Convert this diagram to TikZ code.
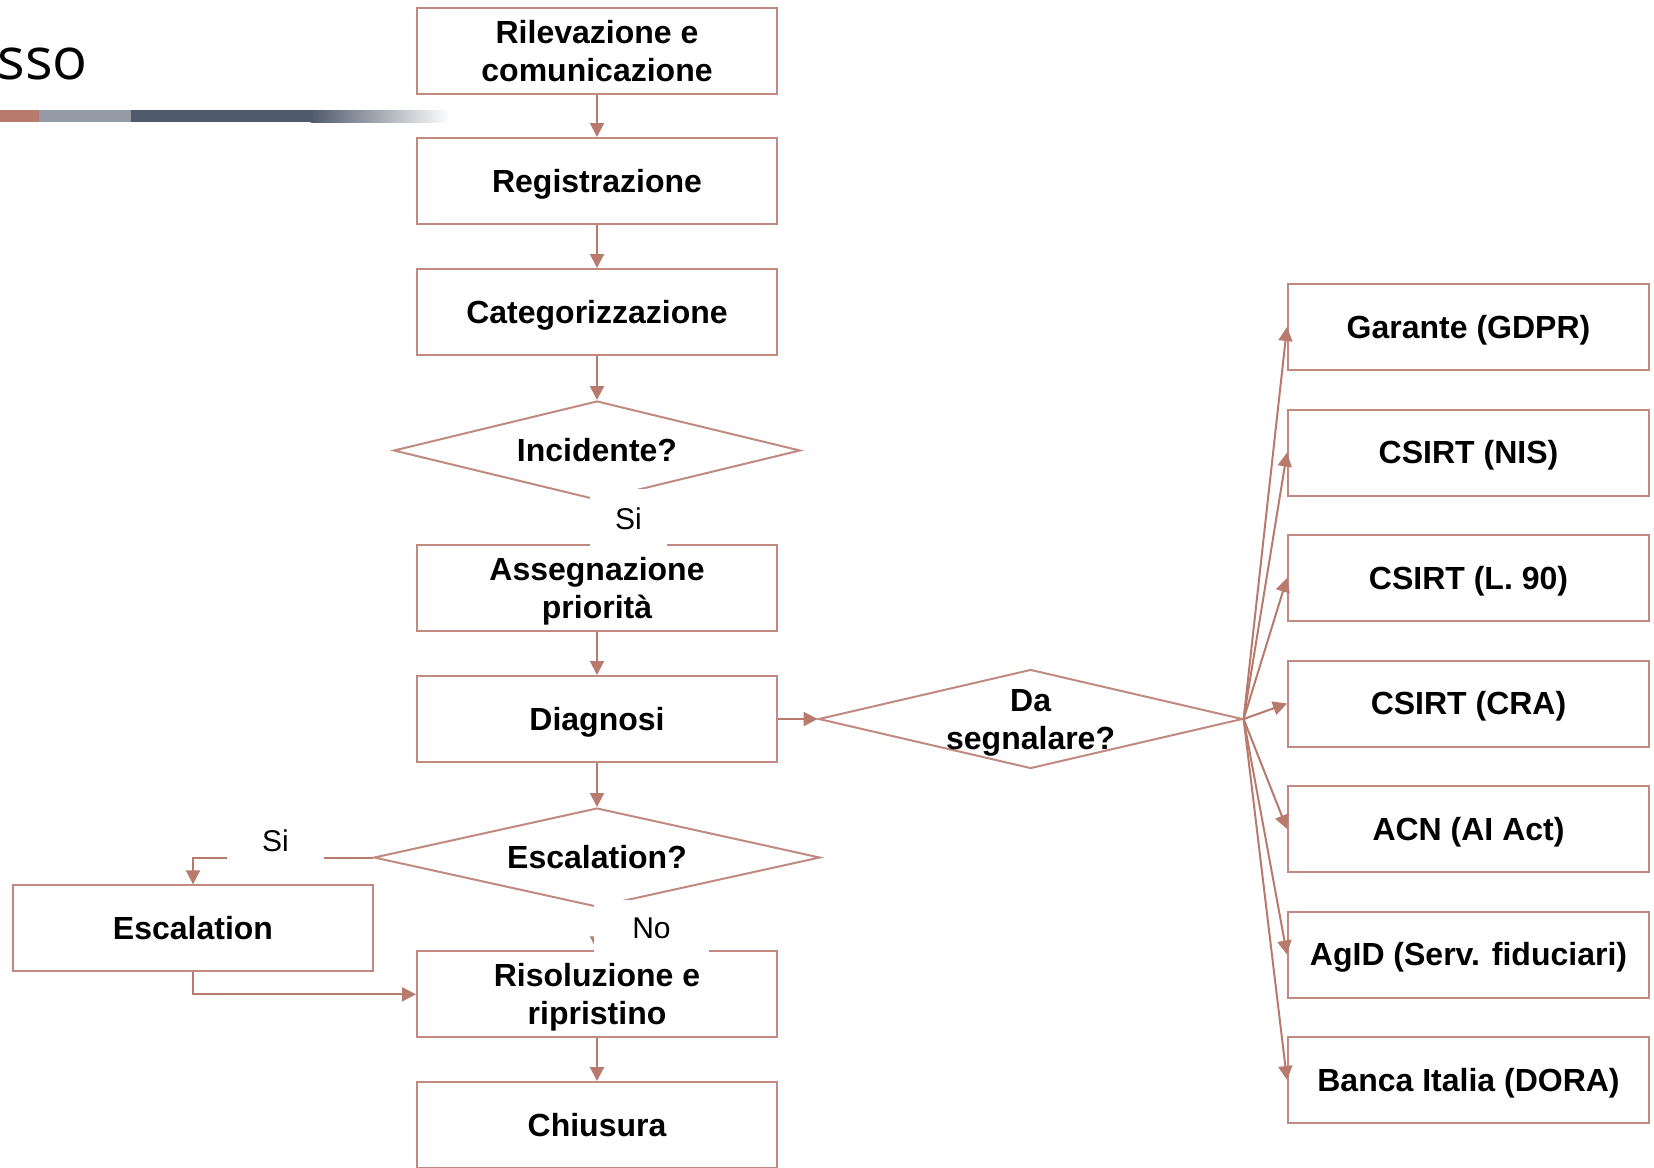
\documentclass[tikz,border=0pt]{standalone}
\usepackage{fontspec}
\setmainfont{Liberation Sans}
\newfontfamily\titlefont{Open Sans}
\usetikzlibrary{shapes.geometric,arrows.meta}
\definecolor{edge}{HTML}{B97A6E}
\definecolor{boxline}{HTML}{C08A80}
\definecolor{barred}{HTML}{B97A6E}
\definecolor{bargray}{HTML}{959BA6}
\definecolor{barslate}{HTML}{4F5A6B}
\newcommand{\mystrut}{\rule[-0.212em]{0pt}{1.117em}}
\begin{document}
\begin{tikzpicture}[x=0.5pt,y=-0.5pt,
  txt/.style={align=center, font=\fontsize{16}{19}\selectfont\bfseries,
    execute at begin node=\mystrut, execute at end node=\mystrut},
  two/.style={text height=30.5pt, text depth=0pt},
  box/.style={txt, draw=boxline, line width=1pt, minimum width=180pt, minimum height=43pt, inner sep=0pt},
  rbox/.style={box, minimum width=180.5pt},
  dia/.style={draw=boxline, line width=1pt, shape=diamond, inner sep=0pt, minimum height=49.5pt},
  dtext/.style={txt, inner sep=0pt},
  lab/.style={fill=white, inner sep=0pt, font=\fontsize{15}{18}\selectfont},
  conn/.style={draw=edge, line width=1pt, -{Triangle[length=7pt,width=7pt]}}
]
\useasboundingbox (0,0) rectangle (1654,1167);

% header
\node[anchor=base west, inner sep=0pt, font=\titlefont\fontsize{29}{30}\selectfont] (title) at (-3,79) {sso};
\fill[barred] (0,110) rectangle (39,122);
\fill[bargray] (39,110) rectangle (131,122);
\fill[barslate] (131,110) rectangle (312,122);
\shade[left color=barslate, right color=white] (311,110) rectangle (450,122);

% left column
\node[box, two] (b1) at (597,50.6) {Rilevazione e\\comunicazione};
\node[box] (b2) at (597,181) {Registrazione};
\node[box] (b3) at (597,312) {Categorizzazione};
\node[dia, minimum width=203.25pt] (inc) at (597,450.5) {};
\node[dtext] (inct) at (inc.center) {Incidente?};
\node[box, two] (ass) at (597,587.5) {Assegnazione\\priorità};
\node[box] (diag) at (597,719) {Diagnosi};
\node[dia, minimum width=223pt] (esc) at (597,857.5) {};
\node[dtext] (esct) at (esc.center) {Escalation?};
\node[box] (escb) at (193,928.3) {Escalation};
\node[box, two] (ris) at (597,994.3) {Risoluzione e\\ripristino};
\node[box] (chi) at (597,1125) {Chiusura};

% reporting
\node[dia, minimum width=212pt] (seg) at (1030.6,719) {};
\node[dtext, two] (segt) at (seg.center) {Da\\segnalare?};
\node[rbox] (r1) at (1468.5,327) {Garante (GDPR)};
\node[rbox] (r2) at (1468.5,452.5) {CSIRT (NIS)};
\node[rbox] (r3) at (1468.5,578) {CSIRT (L. 90)};
\node[rbox] (r4) at (1468.5,703.5) {CSIRT (CRA)};
\node[rbox] (r5) at (1468.5,829) {ACN (AI Act)};
\node[rbox] (r6) at (1468.5,954.5) {AgID (Serv. fiduciari)};
\node[rbox] (r7) at (1468.5,1080) {Banca Italia (DORA)};

% connectors
\draw[conn] (b1) -- (b2);
\draw[conn] (b2) -- (b3);
\draw[conn] (b3) -- (inc.north);
\draw[conn] (inc.south) -- (ass);
\draw[conn] (ass) -- (diag);
\draw[conn] (diag) -- (esc.north);
\draw[conn] (diag.east) -- (seg.west);
\draw[conn] (esc.west) -| (escb.north);
\draw[conn] (esc.south) -- (ris);
\draw[conn] (escb.south) |- (ris.west);
\draw[conn] (ris) -- (chi);
\foreach \r in {r1,r2,r3,r4,r5,r6,r7}
  \draw[conn] (seg.east) -- (\r.west);

% labels
\node[lab, minimum width=38.5pt, minimum height=30pt] (si1) at (628.5,518.5) {Si};
\node[lab, minimum width=57.5pt, minimum height=28pt] (no) at (651.5,928) {No};
\node[lab, minimum width=48.5pt, minimum height=24pt] (si2) at (275.5,841) {Si};
\end{tikzpicture}
\end{document}
